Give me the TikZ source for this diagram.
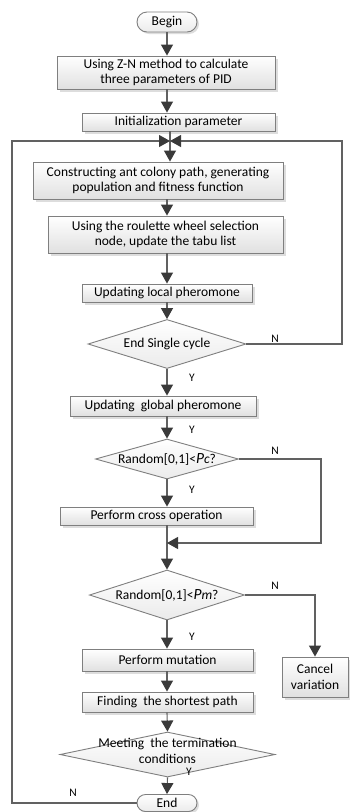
\documentclass[tikz,border=0pt]{standalone}
\usepackage{fontspec}
\setmainfont{Carlito}
\usetikzlibrary{arrows.meta,shapes.geometric,shapes.misc,shadows}
\definecolor{edgegray}{HTML}{7F7F7F}
\definecolor{tipgray}{HTML}{3A3A3A}
\definecolor{shadowgray}{HTML}{DDDDDD}
\begin{document}
\begin{tikzpicture}[x=1pt,y=-1pt,
  every node/.style={font=\fontsize{13.5}{15.5}\selectfont, inner sep=0pt, align=center},
  procbox/.style={rectangle, draw=edgegray, line width=0.9pt, top color=white, bottom color=black!12,
    drop shadow={shadow xshift=3pt, shadow yshift=-3pt, fill=shadowgray, opacity=1}},
  termbox/.style={rounded rectangle, draw=edgegray, line width=0.9pt, top color=white, bottom color=black!8,
    drop shadow={shadow xshift=2pt, shadow yshift=-2pt, fill=shadowgray, opacity=1}},
  decbox/.style={diamond, draw=edgegray, line width=0.9pt, top color=white, bottom color=black!8, aspect=2},
  lbl/.style={font=\fontsize{11.5}{13}\selectfont},
  flow/.style={draw=black!62, line width=1.1pt},
  arr/.style={flow, -{Triangle[length=11pt,width=12pt,color=tipgray]}}
]
\useasboundingbox (0,0) rectangle (350,812);
\fill[white] (0,0) rectangle (350,812);

\node[termbox, minimum width=60pt, minimum height=20pt] (begin) at (167,22) {Begin};
\node[procbox, minimum width=218pt, minimum height=33pt] (b1) at (166,72.5) {Using Z-N method to calculate\\three parameters of PID};
\node[procbox, minimum width=193pt, minimum height=18pt] (b2) at (178.5,122) {Initialization parameter};
\coordinate (J) at (170,141);
\node[procbox, minimum width=250pt, minimum height=37pt] (b3) at (158,180.5) {Constructing ant colony path, generating\\population and fitness function};
\node[procbox, minimum width=235pt, minimum height=37pt] (b4) at (165.5,234.5) {Using the roulette wheel selection\\node, update the tabu list};
\node[procbox, minimum width=170pt, minimum height=18pt] (b5) at (167,293) {Updating local pheromone};
\node[decbox, minimum width=158pt, minimum height=49pt] (d1) at (167,344) {};
\node (t1) at (d1) {End Single cycle};
\node[procbox, minimum width=186pt, minimum height=20pt] (b6) at (163,406) {Updating\ \ global pheromone};
\node[decbox, minimum width=143pt, minimum height=40pt] (d2) at (167,459) {};
\node (t2) at (d2) {Random[0,1]<{\fontsize{15.5}{15.5}\selectfont\itshape P}{\itshape c}?};
\node[procbox, minimum width=193pt, minimum height=18pt] (b7) at (156.5,516) {Perform cross operation};
\coordinate (M) at (167,543);
\node[decbox, minimum width=155pt, minimum height=50pt] (d3) at (167,595) {};
\node (t3) at (d3) {Random[0,1]<{\fontsize{15.5}{15.5}\selectfont\itshape P}{\itshape m}?};
\node[procbox, minimum width=66pt, minimum height=40pt] (cv) at (315,677) {Cancel\\variation};
\node[procbox, minimum width=171pt, minimum height=22pt] (b8) at (167.5,660) {Perform mutation};
\node[procbox, minimum width=171pt, minimum height=20pt] (b9) at (167.5,702) {Finding\ \ the shortest path};
\node[decbox, minimum width=215pt, minimum height=45pt] (d4) at (167.5,754.5) {};
\node (t4) at (167.5,751) {Meeting\ \ the termination\\conditions};
\node[termbox, minimum width=60pt, minimum height=17pt] (end) at (167,803) {End};

% column connectors
\coordinate (col) at (167,0);
\draw[arr] (begin.south -| col) -- (b1.north -| col);
\draw[arr] (b1.south -| col) -- (b2.north -| col);
\draw[flow] (b2.south -| J) -- (J);
\draw[arr] (J) -- (b3.north -| J);
\draw[arr] (b3.south -| col) -- (b4.north -| col);
\draw[arr] (b4.south -| col) -- (b5.north -| col);
\draw[arr] (b5.south -| col) -- (d1.north);
\draw[arr] (d1.south) -- (b6.north -| col);
\draw[arr] (b6.south -| col) -- (d2.north);
\draw[arr] (d2.south) -- (b7.north -| col);
\draw[flow] (b7.south -| col) -- (M);
\draw[arr] (M) -- (d3.north);
\draw[arr] (d3.south) -- (b8.north -| col);
\draw[arr] (b8.south -| col) -- (b9.north -| col);
\draw[arr] (b9.south -| col) -- (d4.north);
\draw[arr] (d4.south) -- (end.north);

% loops
\draw[arr] (d1.east) -- (342,344) -- (342,141) -- (J);
\draw[arr] (end.west) -- (12,803) -- (12,141) -- (J);
\draw[arr] (d2.east) -- (321,459) -- (321,543) -- (M);
\draw[arr] (d3.east) -| (cv.north);

% labels
\node[lbl] (n1) at (275,339) {N};
\node[lbl] (y1) at (192,378) {Y};
\node[lbl] (y2) at (192,430) {Y};
\node[lbl] (n2) at (275,451) {N};
\node[lbl] (y3) at (192,490) {Y};
\node[lbl] (n3) at (275,586) {N};
\node[lbl] (y4) at (192,637) {Y};
\node[lbl] (y5) at (189,772) {Y};
\node[lbl] (n4) at (73,793) {N};
\end{tikzpicture}
\end{document}
